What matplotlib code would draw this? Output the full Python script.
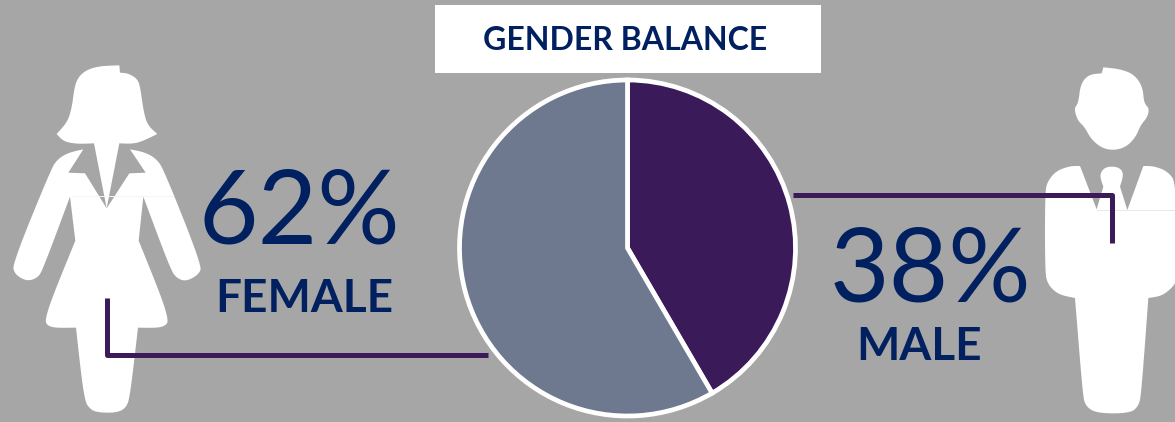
import matplotlib
matplotlib.use('Agg')
import matplotlib.pyplot as plt
from matplotlib.patches import Polygon, Rectangle

W, H = 1175, 422
GREY = '#A6A6A6'
NAVY = '#002060'
PURPLE = '#3B1A5A'
SLATE = '#6E788F'

# wedge sizes as drawn (the pie does not quite agree with its labels)
pie_labels = ['MALE', 'FEMALE']
pie_values = [41.6, 58.4]
pie_colors = [PURPLE, SLATE]

title = 'GENDER BALANCE'
female_pct, female_name = '62%', 'FEMALE'
male_pct, male_name = '38%', 'MALE'

# icon outlines, traced in 3x zoom pixels
woman_hair = [(358,46),(300,48),(258,60),(232,85),(222,120),(216,170),(203,215),(170,252),(190,274),
              (230,282),(282,280),(320,475),(358,280),(410,282),(472,252),(442,225),(430,180),(422,120),
              (414,88),(385,70),(360,68)]
woman_body = [(250,298),(205,308),(172,328),(152,360),(38,640),(43,672),(80,694),(112,684),(128,660),
              (210,440),(226,572),(133,800),(143,834),(228,833),(252,1050),(272,1080),(300,1088),(350,1088),
              (378,1074),(390,1040),(414,833),(492,834),(510,805),(416,572),(430,440),(512,660),(532,686),
              (560,694),(598,672),(605,645),(492,360),(468,325),(432,306),(390,298),(437,368),(388,370),
              (320,475),(255,370),(205,368)]
woman_sharp = {(358,46),(360,68),(170,252),(472,252),(282,280),(320,475),(358,280),(250,298),(205,368),
               (255,370),(388,370),(437,368),(390,298),(210,440),(430,440),(226,572),(416,572),(228,833),
               (414,833)}
man_head = [(220,52),(215,70),(178,73),(152,100),(145,160),(132,175),(143,212),(163,230),(183,267),
            (215,294),(250,301),(287,292),(317,262),(332,225),(352,202),(358,175),(342,160),(338,110),
            (312,73),(270,57)]
man_body = [(150,348),(120,348),(78,363),(52,395),(45,430),(45,660),(52,702),(85,734),(135,744),(158,1030),
            (166,1068),(200,1090),(300,1090),(326,1068),(334,1030),(355,744),(395,738),(428,712),(440,690),
            (440,400),(412,363),(370,348),(340,348),(292,480),(270,410),(282,370),(265,350),(225,350),
            (208,375),(220,410),(200,478)]
man_sharp = {(220,52),(215,70),(150,348),(200,478),(220,410),(270,410),(292,480),(340,348),(135,744),(355,744)}


def to_px(points, x0, y0):
    return [(x0 + x / 3, y0 + y / 3) for x, y in points]


def smooth(points, sharp, rounds=3):
    # corner cutting, sharp vertices stay where they are
    pts = [(p, p in sharp) for p in points]
    for _ in range(rounds):
        out = []
        for i, (p, keep) in enumerate(pts):
            if keep:
                out.append((p, True))
                continue
            a = pts[i - 1][0]
            b = pts[(i + 1) % len(pts)][0]
            out.append(((0.75 * p[0] + 0.25 * a[0], 0.75 * p[1] + 0.25 * a[1]), False))
            out.append(((0.75 * p[0] + 0.25 * b[0], 0.75 * p[1] + 0.25 * b[1]), False))
        pts = out
    return [p for p, _ in pts]


plt.rcParams['font.family'] = ['Lato', 'DejaVu Sans']
fig = plt.figure(figsize=(W / 100, H / 100), dpi=100, facecolor=GREY)

bg = fig.add_axes([0, 0, 1, 1])
bg.set_xlim(0, W)
bg.set_ylim(H, 0)
bg.axis('off')

for shape, sharp, x0 in [(woman_hair, woman_sharp, 0), (woman_body, woman_sharp, 0),
                         (man_head, man_sharp, 1030), (man_body, man_sharp, 1030)]:
    bg.add_patch(Polygon(to_px(smooth(shape, sharp), x0, 50), closed=True, fc='white', ec='none'))

# faint seams across the icons
bg.plot([72, 173], [196, 196], color='#F4F4F4', lw=0.7)
bg.plot([1097, 1175], [210, 210], color='#E8E8E8', lw=0.7)

bg.add_patch(Rectangle((435, 5), 386, 68, fc='white', ec='none'))
bg.text(625, 41, title, color=NAVY, fontsize=23, fontweight='bold', ha='center', va='center')

bg.text(299, 215, female_pct, color=NAVY, fontsize=74, ha='center', va='center')
bg.text(304, 299, female_name, color=NAVY, fontsize=33, fontweight='bold', ha='center', va='center')
bg.text(930.5, 272, male_pct, color=NAVY, fontsize=74, ha='center', va='center')
bg.text(919, 347, male_name, color=NAVY, fontsize=33, fontweight='bold', ha='center', va='center')

# connector lines
bg.plot([106.5, 106.5, 488], [298, 354.5, 354.5], color=PURPLE, lw=3.6,
        solid_joinstyle='round', solid_capstyle='butt')
bg.plot([793, 1111.5, 1111.5], [195, 195, 243], color=PURPLE, lw=3.6,
        solid_joinstyle='round', solid_capstyle='butt')

# axes a bit larger than the pie so the white ring is not clipped
cx, cy, r = 627.5, 248, 174
ax = fig.add_axes([(cx - r) / W, 1 - (cy + r) / H, 2 * r / W, 2 * r / H])
ax.pie(pie_values, colors=pie_colors, startangle=90, counterclock=False, radius=168 / r,
       wedgeprops={'edgecolor': 'white', 'linewidth': 3.4})
ax.set_xlim(-1, 1)
ax.set_ylim(-1, 1)

fig.savefig('out.png', dpi=100, facecolor=GREY)
